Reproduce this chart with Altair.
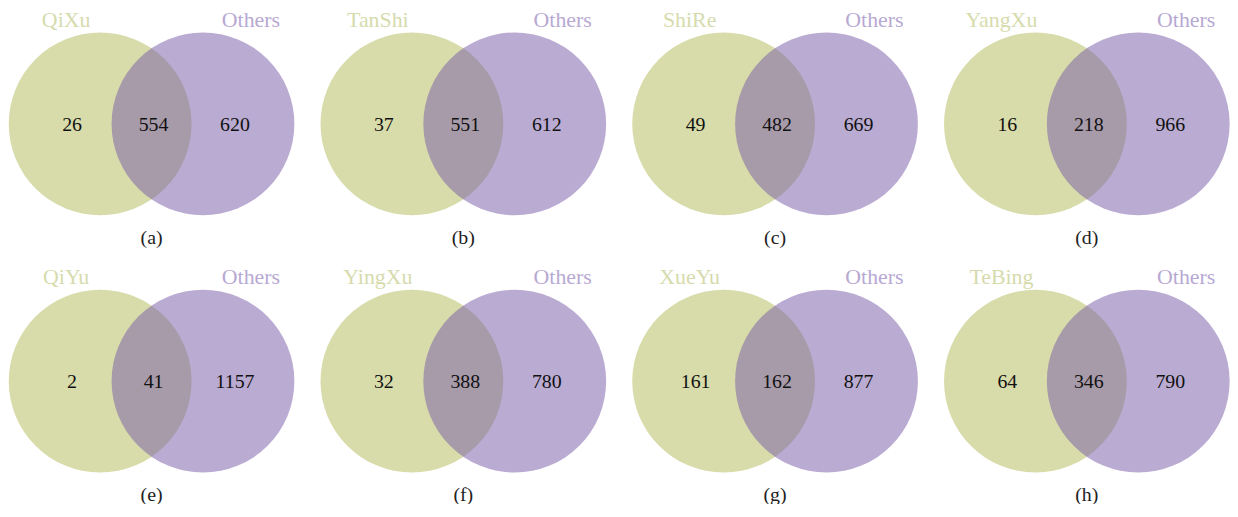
import altair as alt
import pandas as pd

# ---- data ----
herbs = ["QiXu", "TanShi", "ShiRe", "YangXu", "QiYu", "YingXu", "XueYu", "TeBing"]
only_herb = [26, 37, 49, 16, 2, 32, 161, 64]
shared = [554, 551, 482, 218, 41, 388, 162, 346]
only_others = [620, 612, 669, 966, 1157, 780, 877, 790]
other_name = "Others"
captions = ["(a)", "(b)", "(c)", "(d)", "(e)", "(f)", "(g)", "(h)"]

# ---- layout (chart pixel space) ----
W, H = 1230, 496
N_COLS = 4
COL_STEP, ROW_STEP = 313.8, 259
X0, Y0 = 144.5, 115
HALF_SEP = 51.75
DIAM = 184

GREEN = "#d8dcaa"
PURPLE = "#7a5ea9"
PURPLE_TXT = "#b8a9d3"
GREEN_TXT = "#d6dbad"
FONT = "Liberation Serif"

circ, lab, num, cap = [], [], [], []
for i, h in enumerate(herbs):
    col, row = i % N_COLS, i // N_COLS
    mid = X0 + col * COL_STEP
    cy = Y0 + row * ROW_STEP
    circ.append(dict(x=mid - HALF_SEP, y=cy, s="herb"))
    circ.append(dict(x=mid + HALF_SEP, y=cy, s="others"))
    lab.append(dict(x=mid - 86, y=cy - 105, t=h, s="herb"))
    lab.append(dict(x=mid + 100, y=cy - 105, t=other_name, s="others"))
    num.append(dict(x=mid - 80, y=cy + 1, t=str(only_herb[i])))
    num.append(dict(x=mid + 2, y=cy + 1, t=str(shared[i])))
    num.append(dict(x=mid + 84, y=cy + 1, t=str(only_others[i])))
    cap.append(dict(x=mid, y=cy + 115, t=captions[i]))

circ = pd.DataFrame(circ)
lab = pd.DataFrame(lab)
num = pd.DataFrame(num)
cap = pd.DataFrame(cap)

xs = alt.X("x:Q", scale=alt.Scale(domain=[0, W]), axis=None)
ys = alt.Y("y:Q", scale=alt.Scale(domain=[H, 0]), axis=None)

green_c = alt.Chart(circ).transform_filter(alt.datum.s == "herb").mark_circle(
    size=DIAM * DIAM, color=GREEN, opacity=1
).encode(x=xs, y=ys)

purple_c = alt.Chart(circ).transform_filter(alt.datum.s == "others").mark_circle(
    size=DIAM * DIAM, color=PURPLE, opacity=0.52
).encode(x=xs, y=ys)

labels = alt.Chart(lab).mark_text(
    font=FONT, fontSize=22, baseline="middle", align="center"
).encode(
    x=xs, y=ys, text="t:N",
    color=alt.Color("s:N", scale=alt.Scale(domain=["herb", "others"], range=[GREEN_TXT, PURPLE_TXT]), legend=None),
)

numbers = alt.Chart(num).mark_text(
    font=FONT, fontSize=20, baseline="middle", align="center", color="#111111"
).encode(x=xs, y=ys, text="t:N")

caps = alt.Chart(cap).mark_text(
    font=FONT, fontSize=20, baseline="middle", align="center", color="#222222"
).encode(x=xs, y=ys, text="t:N")

chart = alt.layer(green_c, purple_c, labels, numbers, caps).properties(
    width=W, height=H, autosize=alt.AutoSizeParams(type="none"), padding=0
).configure_view(stroke=None)

chart.save("out.html", embed_options={"renderer": "svg", "actions": False})
